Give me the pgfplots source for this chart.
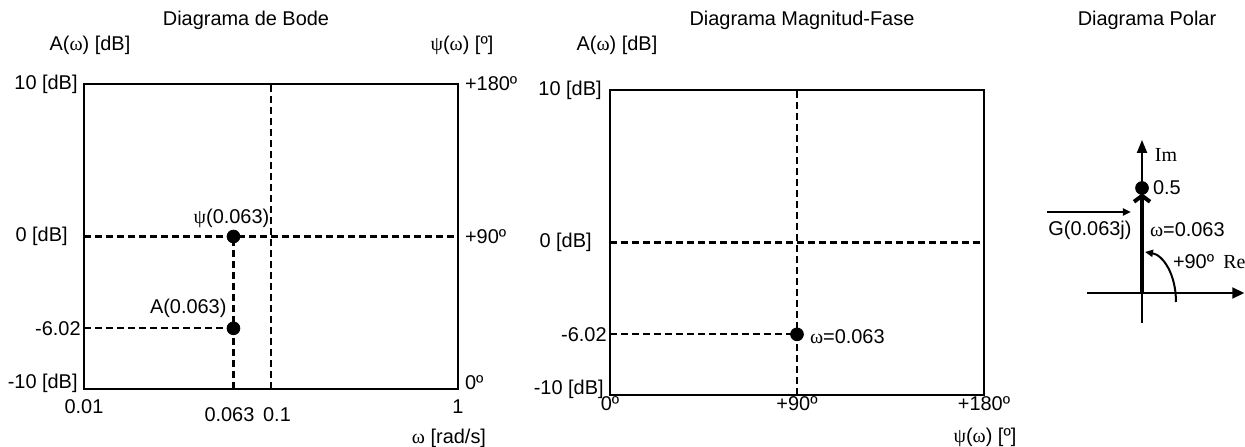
\documentclass[border=0pt]{standalone}
\usepackage{fontspec}
\setmainfont{Liberation Sans}
\newfontfamily\grk{Liberation Serif}
\usepackage{pgfplots}
\pgfplotsset{compat=1.18}
\usetikzlibrary{arrows.meta}
\newcommand\fsz{\fontsize{10}{12}\selectfont}
\pgfplotsset{
  dline/.style={black, line width=1.1bp, dash pattern=on 3.5bp off 2bp},
  dot/.style={black, only marks, mark=*, mark size=3.2bp},
}
\begin{document}
\begin{tikzpicture}[font=\fsz]
\useasboundingbox (0,0) rectangle (622.5bp,-223.5bp);

% ---------------- Bode ----------------
\begin{axis}[at={(42bp,-194.5bp)}, anchor=south west, width=187bp, height=152.5bp, scale only axis,
  xmode=log, log basis x=10, xmin=0.01, xmax=1, ymin=-10, ymax=10,
  xtick={0.01,1}, xticklabels={0.01,1},
  xticklabel style={yshift=-2bp},
  extra x ticks={0.063,0.1}, extra x tick labels={{0.063\kern4bp},{\kern6bp0.1}},
  extra x tick style={xticklabel style={yshift=-4bp}},
  ytick={-6.02,0,10}, yticklabels={-6.02,{0 [dB]\kern6.5bp},{10 [dB]\kern1.5bp}},
  yticklabel style={inner sep=1.5bp},
  major tick length=0pt, tick label style={font=\fsz},
  axis line style={line width=0.6bp}, clip=false]
\addplot[dline] coordinates {(0.01,0) (1,0)};
\addplot[dline] coordinates {(0.1,-10) (0.1,10)};
\addplot[dline] coordinates {(0.063,-10) (0.063,0)};
\addplot[dline] coordinates {(0.01,-6.02) (0.063,-6.02)};
\addplot[dot] coordinates {(0.063,0) (0.063,-6.02)};
\node[anchor=south, xshift=-1bp, yshift=1bp] at (axis cs:0.063,0) {{\grk ψ}(0.063)};
\node[anchor=south east, yshift=2bp, xshift=0bp] at (axis cs:0.063,-6.02) {A(0.063)};
\node[anchor=east, inner sep=1.5bp, xshift=-1.5bp, yshift=3bp] at (axis cs:0.01,-10) {-10 [dB]};
\end{axis}
\begin{axis}[at={(42bp,-194.5bp)}, anchor=south west, width=187bp, height=152.5bp, scale only axis,
  xmin=0, xmax=1, ymin=0, ymax=180, axis x line=none, axis y line*=right,
  ytick={90,180}, yticklabels={+90º,+180º},
  major tick length=0pt, tick label style={font=\fsz},
  axis line style={line width=0.6bp}, clip=false]
\node[anchor=west, yshift=3bp] at (axis cs:1,0) {0º};
\end{axis}

% ---------------- Magnitud-Fase ----------------
\begin{axis}[at={(305bp,-197.5bp)}, anchor=south west, width=187bp, height=152.5bp, scale only axis,
  xmin=0, xmax=180, ymin=-10, ymax=10,
  xtick={0,90,180}, xticklabels={0º,+90º,+180º},
  xticklabel style={yshift=2.5bp},
  ytick={-6.02,0,10}, yticklabels={-6.02,{0 [dB]\kern7.5bp},{10 [dB]\kern2.5bp}},
  yticklabel style={inner sep=1.5bp},
  major tick length=0pt, tick label style={font=\fsz},
  axis line style={line width=0.6bp}, clip=false]
\addplot[dline] coordinates {(0,0) (180,0)};
\addplot[dline] coordinates {(90,-10) (90,10)};
\addplot[dline] coordinates {(0,-6.02) (90,-6.02)};
\addplot[dot] coordinates {(90,-6.02)};
\node[anchor=west, xshift=3bp, yshift=-1bp] at (axis cs:90,-6.02) {{\grk ω}=0.063};
\node[anchor=east, inner sep=1.5bp, xshift=-1.5bp, yshift=3bp] at (axis cs:0,-10) {-10 [dB]};
\end{axis}

% ---------------- Polar ----------------
\begin{axis}[at={(539.5bp,-167.5bp)}, anchor=south west, width=84bp, height=105bp, scale only axis,
  xmin=-0.3, xmax=0.5, ymin=-0.2, ymax=0.8, hide axis, clip=false]
\draw[line width=1bp, -{Triangle[length=6bp,width=5.5bp]}] (axis cs:-0.262,0) -- (axis cs:0.487,0);
\draw[line width=1bp, -{Triangle[length=6.5bp,width=5bp]}] (axis cs:0,-0.143) -- (axis cs:0,0.729);
\addplot[black, line width=2bp, -{Straight Barb[length=3bp,width=8bp]}] coordinates {(0,0) (0,0.475)};
\addplot[dot] coordinates {(0,0.5)};
\node[anchor=west, xshift=2bp] at (axis cs:0,0.5) {0.5};
\end{axis}

% ---------------- texts in pixel units ----------------
\begin{scope}[x=0.5bp,y=-0.5bp]
\node at (246,20) {Diagrama de Bode};
\node at (802,20) {Diagrama Magnitud-Fase};
\node at (1147,20) {Diagrama Polar};
\node at (90,45) {A({\grk ω}) [dB]};
\node at (462,45) {{\grk ψ}({\grk ω}) [º]};
\node at (617,45) {A({\grk ω}) [dB]};
\node at (449,438) {{\grk ω} [rad/s]};
\node at (985,437) {{\grk ψ}({\grk ω}) [º]};
% polar annotations
\node at (1166,155) {\grk Im};
\node at (1090,230) {G(0.063j)};
\node[anchor=west] at (1143,230) {{\grk ω}=0.063};
\node[anchor=west] at (1166,262) {+90º};
\node[anchor=west, inner sep=0pt] at (1223,262) {\grk Re};
\draw[line width=1bp, -{Triangle[length=4bp,width=3.5bp]}] (1047,212) -- (1131,212);
\draw[line width=1bp, -{Triangle[length=4bp,width=3.5bp]}] (1176,302) .. controls (1176,274) and (1163,255) .. (1145,252);
\end{scope}
\end{tikzpicture}
\end{document}
